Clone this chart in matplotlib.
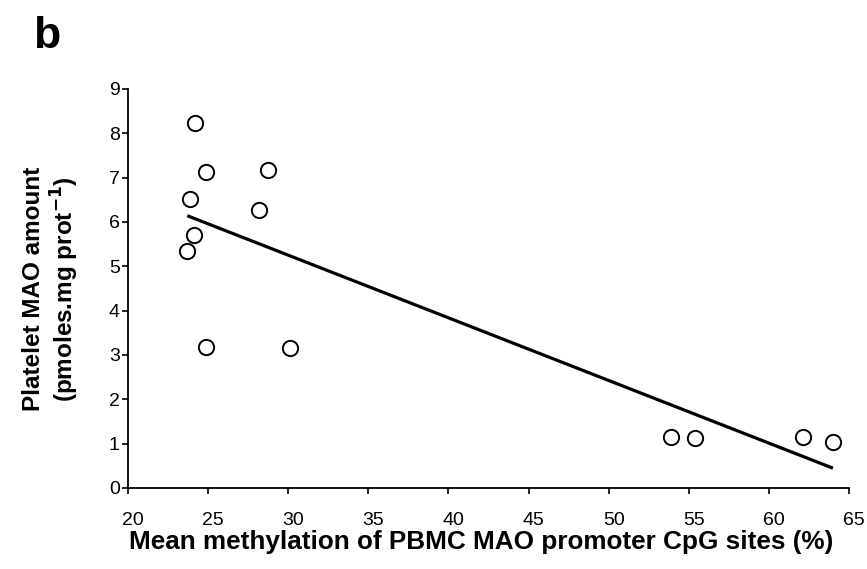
import numpy as np
import matplotlib
matplotlib.use("Agg")
import matplotlib.pyplot as plt
import matplotlib.transforms as mtransforms

plt.rcParams["font.family"] = ["Liberation Sans", "DejaVu Sans"]

# ── data ───────────────────────────────────
methylation = [24.2, 24.9, 28.75, 23.9, 28.2, 24.1, 23.7, 24.9, 30.1,
               53.9, 55.4, 62.1, 64.0]
mao_amount = [8.24, 7.13, 7.18, 6.52, 6.28, 5.71, 5.35, 3.18, 3.16,
              1.15, 1.13, 1.15, 1.04]
x_ticks = [20, 25, 30, 35, 40, 45, 50, 55, 60, 65]
y_ticks = [0, 1, 2, 3, 4, 5, 6, 7, 8, 9]

x = np.array(methylation)
y = np.array(mao_amount)
slope, intercept = np.polyfit(x, y, 1)
fit_x = np.array([x.min(), x.max()])

fig = plt.figure(figsize=(8.67, 5.69), dpi=100, facecolor="white")
ax = fig.add_axes([0.1476, 0.1424, 0.8316, 0.7013])

ax.plot(fit_x, slope * fit_x + intercept, color="black", lw=2.3,
        solid_capstyle="butt", zorder=2)
ax.plot(x, y, linestyle="none", marker="o", ms=11, mfc="white",
        mec="black", mew=1.4, zorder=3)

ax.set_xlim(20, 65)
ax.set_ylim(0, 9)
ax.set_xticks(x_ticks)
ax.set_yticks(y_ticks)
ax.tick_params(axis="both", labelsize=14, length=4, width=1.2)
ax.tick_params(axis="x", pad=13)
ax.tick_params(axis="y", pad=2)
# labels in the original sit a little right of their ticks
shift = mtransforms.ScaledTranslation(5 / 100, 0, fig.dpi_scale_trans)
for lab in ax.get_xticklabels():
    lab.set_transform(lab.get_transform() + shift)
for s in ("top", "right"):
    ax.spines[s].set_visible(False)
for s in ("left", "bottom"):
    ax.spines[s].set_linewidth(1.3)

ax.set_xlabel("Mean methylation of PBMC MAO promoter CpG sites (%)",
              fontsize=18.8, fontweight="bold", labelpad=1)
ax.xaxis.label.set_x(0.49)
fig.text(0.059, 0.492,
         "Platelet MAO amount\n(pmoles.mg prot$^{\\mathbf{-1}}$)",
         rotation=90, ha="center", va="center", ma="center",
         fontsize=17.5, fontweight="bold", linespacing=1.15)

fig.text(0.038, 0.972, "b", fontsize=32, fontweight="bold",
         ha="left", va="top")

fig.savefig("out.png", dpi=100, facecolor="white")
